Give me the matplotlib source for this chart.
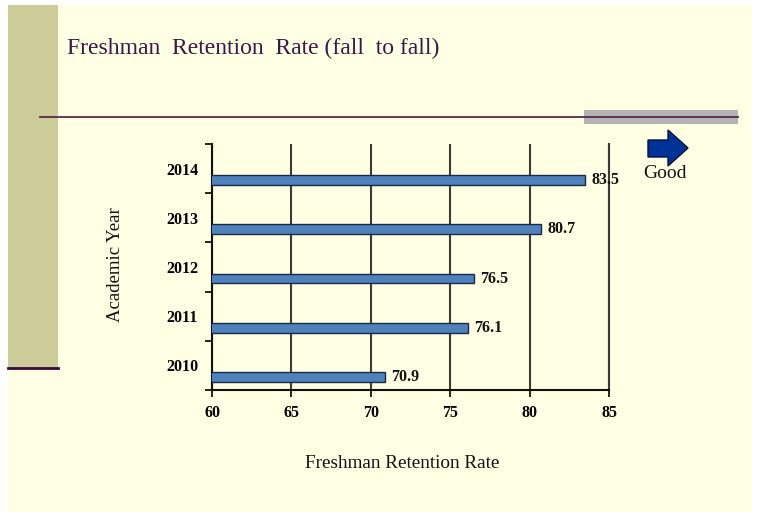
import matplotlib
matplotlib.use("Agg")
import matplotlib.pyplot as plt
from matplotlib.patches import Rectangle, Polygon
from matplotlib.lines import Line2D

years = ["2010", "2011", "2012", "2013", "2014"]
rates = [70.9, 76.1, 76.5, 80.7, 83.5]
x_ticks = [60, 65, 70, 75, 80, 85]

W, H = 764, 512
fig = plt.figure(figsize=(W / 100, H / 100), dpi=100)
fig.patch.set_facecolor("white")
serif = ["Liberation Serif", "DejaVu Serif"]


def px(x, y):
    return x / W, 1 - y / H


def rect(x0, y0, x1, y1, **kw):
    fx, fy = px(x0, y1)
    fig.add_artist(Rectangle((fx, fy), (x1 - x0) / W, (y1 - y0) / H,
                             transform=fig.transFigure, **kw))


# slide background and decorations
rect(8, 5, 752, 512, facecolor="#FFFFE3", edgecolor="none", zorder=0)
rect(8, 5, 58, 368, facecolor="#CCCC99", edgecolor="none", zorder=1)
fig.add_artist(Line2D([px(8, 0)[0], px(58, 0)[0]], [px(0, 368)[1]] * 2,
                      transform=fig.transFigure, color="#3A0A3A", lw=2, zorder=2))
rect(584, 110, 738, 124, facecolor="#B3B3B3", edgecolor="none", zorder=1)
fig.add_artist(Line2D([px(40, 0)[0], px(738, 0)[0]], [px(0, 117)[1]] * 2,
                      transform=fig.transFigure, color="#5A2A4A", lw=1.3, zorder=2))

fig.text(*px(67, 48), "Freshman  Retention  Rate (fall  to fall)", family=serif,
         fontsize=17, color="#3A1848", ha="left", va="center")

# Good arrow
arrow_pts = [(648, 140), (668, 140), (668, 130), (688, 148), (668, 166), (668, 157), (648, 157)]
fig.add_artist(Polygon([px(x, y) for x, y in arrow_pts], closed=True,
                       transform=fig.transFigure, facecolor="#003399",
                       edgecolor="#0A1030", lw=1, zorder=3))
fig.text(*px(665, 174), "Good", family=serif, fontsize=14, color="#111111",
         ha="center", va="center")

# chart
ax = fig.add_axes([212 / W, 1 - 390 / H, 397 / W, 246 / H])
ax.set_facecolor("none")
pos = list(range(len(years)))
ax.barh([p - 0.235 for p in pos], rates, height=0.2, left=0,
        color="#4F81BD", edgecolor="#1A2A40", linewidth=1, zorder=3)
ax.set_xlim(x_ticks[0], x_ticks[-1])
ax.set_ylim(-0.5, len(years) - 0.5)
ax.set_xticks(x_ticks)
ax.set_xticklabels([str(t) for t in x_ticks], family=serif, fontweight="bold",
                   fontsize=11.5)
ax.set_yticks(pos)
ax.set_yticklabels(years, family=serif, fontweight="bold", fontsize=11.5)
ax.set_yticks([p - 0.5 for p in pos] + [len(years) - 0.5], minor=True)
ax.tick_params(axis="y", which="major", length=0, pad=10)
ax.tick_params(axis="y", which="minor", length=5, width=1.2, direction="out")
ax.tick_params(axis="x", length=5, width=1.2, direction="out", pad=6)
ax.grid(axis="x", color="#3A3A3A", lw=1.5, zorder=1)
ax.spines["top"].set_visible(False)
ax.spines["right"].set_color("#3A3A3A")
ax.spines["right"].set_linewidth(1.5)
for s in ["left", "bottom"]:
    ax.spines[s].set_linewidth(1.5)
    ax.spines[s].set_color("#111111")

for p, v in zip(pos, rates):
    ax.text(v + 0.4, p - 0.235, f"{v:.1f}", family=serif, fontweight="bold",
            fontsize=11.5, va="center", ha="left", color="#111111", zorder=4)

fig.text(*px(402, 463), "Freshman Retention Rate", family=serif, fontsize=13.75,
         ha="center", va="center", color="#111111")
fig.text(*px(116, 265), "Academic Year", family=serif, fontsize=13.5, rotation=90,
         ha="center", va="center", color="#111111")

fig.savefig("out.png", dpi=100, facecolor=fig.get_facecolor())
